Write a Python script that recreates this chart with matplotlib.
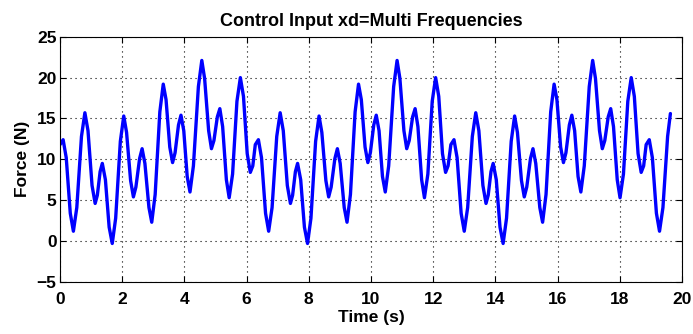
import matplotlib
matplotlib.use('Agg')
import matplotlib.pyplot as plt

# %%
# Force curve (time in s, force in N)
time_s = [
    0.00, 0.10, 0.20, 0.33, 0.43, 0.54, 0.69, 0.80, 0.90, 1.03,
    1.13, 1.20, 1.29, 1.36, 1.46, 1.58, 1.68, 1.79, 1.94, 2.05,
    2.14, 2.27, 2.36, 2.44, 2.56, 2.64, 2.73, 2.86, 2.95, 3.06,
    3.21, 3.32, 3.41, 3.53, 3.62, 3.70, 3.81, 3.89, 3.98, 4.09,
    4.18, 4.29, 4.45, 4.56, 4.65, 4.78, 4.87, 4.95, 5.06, 5.14,
    5.23, 5.35, 5.44, 5.55, 5.69, 5.80, 5.90, 6.02, 6.12, 6.20,
    6.28, 6.38, 6.48, 6.61, 6.71, 6.82, 6.97, 7.08, 7.18, 7.31,
    7.41, 7.48, 7.57, 7.64, 7.74, 7.86, 7.96, 8.07, 8.22, 8.33,
    8.42, 8.55, 8.64, 8.72, 8.84, 8.92, 9.01, 9.14, 9.23, 9.34,
    9.49, 9.60, 9.69, 9.81, 9.90, 9.98, 10.09, 10.17, 10.26, 10.37,
    10.46, 10.57, 10.73, 10.84, 10.93, 11.06, 11.15, 11.23, 11.34, 11.42,
    11.51, 11.63, 11.72, 11.83, 11.97, 12.08, 12.18, 12.30, 12.40, 12.48,
    12.57, 12.67, 12.77, 12.90, 13.00, 13.11, 13.26, 13.37, 13.47, 13.60,
    13.70, 13.77, 13.86, 13.93, 14.03, 14.15, 14.25, 14.36, 14.51, 14.62,
    14.71, 14.84, 14.93, 15.01, 15.13, 15.21, 15.30, 15.43, 15.52, 15.63,
    15.78, 15.89, 15.98, 16.10, 16.19, 16.27, 16.38, 16.46, 16.55, 16.66,
    16.75, 16.86, 17.02, 17.13, 17.22, 17.35, 17.44, 17.52, 17.63, 17.71,
    17.80, 17.92, 18.01, 18.12, 18.26, 18.37, 18.47, 18.59, 18.69, 18.77,
    18.85, 18.95, 19.05, 19.18, 19.28, 19.39, 19.54, 19.63,
]
force_n = [
    11.8, 12.4, 10.2, 3.4, 1.2, 4.1, 12.8, 15.7, 13.5, 6.8,
    4.6, 5.6, 8.5, 9.5, 7.5, 1.7, -0.3, 2.8, 12.2, 15.3,
    13.3, 7.4, 5.4, 6.6, 10.1, 11.3, 9.5, 4.1, 2.3, 5.7,
    15.8, 19.2, 17.3, 11.5, 9.6, 10.8, 14.2, 15.4, 13.5, 7.9,
    6.0, 9.2, 18.9, 22.1, 19.9, 13.5, 11.3, 12.3, 15.2, 16.2,
    14.0, 7.5, 5.3, 8.2, 17.1, 20.0, 17.7, 10.7, 8.4, 9.2,
    11.8, 12.4, 10.2, 3.4, 1.2, 4.1, 12.8, 15.7, 13.5, 6.8,
    4.6, 5.6, 8.5, 9.5, 7.5, 1.7, -0.3, 2.8, 12.2, 15.3,
    13.3, 7.4, 5.4, 6.6, 10.1, 11.3, 9.5, 4.1, 2.3, 5.7,
    15.8, 19.2, 17.3, 11.5, 9.6, 10.8, 14.2, 15.4, 13.5, 7.9,
    6.0, 9.2, 18.9, 22.1, 19.9, 13.5, 11.3, 12.3, 15.2, 16.2,
    14.0, 7.5, 5.3, 8.2, 17.1, 20.0, 17.7, 10.7, 8.4, 9.2,
    11.8, 12.4, 10.2, 3.4, 1.2, 4.1, 12.8, 15.7, 13.5, 6.8,
    4.6, 5.6, 8.5, 9.5, 7.5, 1.7, -0.3, 2.8, 12.2, 15.3,
    13.3, 7.4, 5.4, 6.6, 10.1, 11.3, 9.5, 4.1, 2.3, 5.7,
    15.8, 19.2, 17.3, 11.5, 9.6, 10.8, 14.2, 15.4, 13.5, 7.9,
    6.0, 9.2, 18.9, 22.1, 19.9, 13.5, 11.3, 12.3, 15.2, 16.2,
    14.0, 7.5, 5.3, 8.2, 17.1, 20.0, 17.7, 10.7, 8.4, 9.2,
    11.8, 12.4, 10.2, 3.4, 1.2, 4.1, 12.8, 15.6,
]

x_ticks = [0, 2, 4, 6, 8, 10, 12, 14, 16, 18, 20]
y_ticks = [-5, 0, 5, 10, 15, 20, 25]

# %%
plt.rcParams['font.family'] = ['Liberation Sans', 'DejaVu Sans']
plt.rcParams['font.weight'] = 'bold'

fig = plt.figure(figsize=(6.93, 3.34), dpi=100)
ax = fig.add_axes([0.0866, 0.156, 0.8974, 0.734])

ax.plot(time_s, force_n, color='#0000ff', linewidth=2.4,
        solid_joinstyle='round', solid_capstyle='round')

ax.set_xlim(0, 20)
ax.set_ylim(-5, 25)
ax.set_xticks(x_ticks)
ax.set_yticks(y_ticks)
ax.set_yticklabels(['\u22125' if v < 0 else str(v) for v in y_ticks])
ax.grid(True, color='black', linestyle=(0, (1, 3.5)), linewidth=0.8)
ax.tick_params(direction='in', length=4, width=0.8, labelsize=12.5,
               top=True, right=True)
ax.tick_params(axis='x', pad=7.5)
ax.tick_params(axis='y', pad=2.5)
for spine in ax.spines.values():
    spine.set_linewidth(0.8)

ax.set_title('Control Input xd=Multi Frequencies', fontsize=13,
             fontweight='bold', pad=8)
ax.set_xlabel('Time (s)', fontsize=12.5, fontweight='bold', labelpad=2)
ax.set_ylabel('Force (N)', fontsize=12.5, fontweight='bold', labelpad=5)

fig.savefig('out.png', dpi=100)
